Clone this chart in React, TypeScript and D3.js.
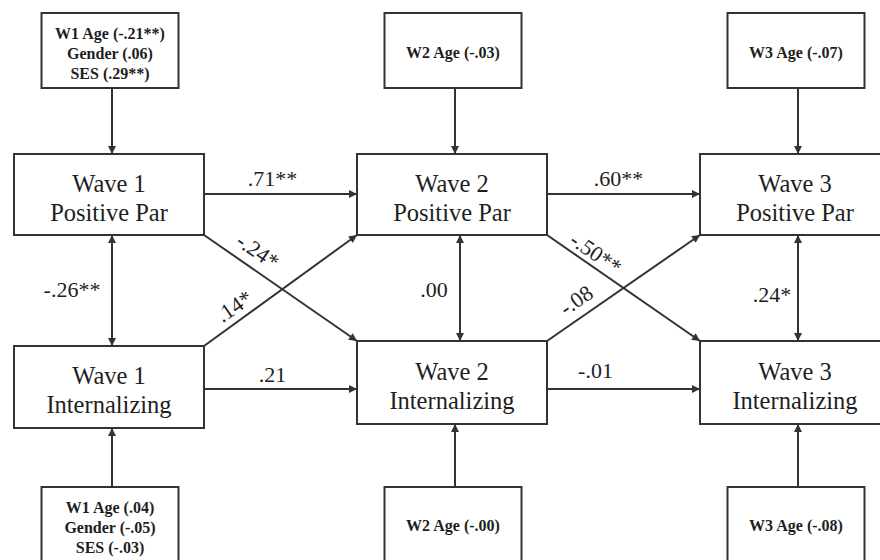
import React from "react";
import * as d3 from "d3";

// ---- data ----
const waves = ["Wave 1", "Wave 2", "Wave 3"];
const constructs = ["Positive Par", "Internalizing"];
const topCovariates = [
  ["W1 Age (-.21**)", "Gender (.06)", "SES (.29**)"],
  ["W2 Age (-.03)"],
  ["W3 Age (-.07)"],
];
const bottomCovariates = [
  ["W1 Age (.04)", "Gender (-.05)", "SES (-.03)"],
  ["W2 Age (-.00)"],
  ["W3 Age (-.08)"],
];
const stabilityPar = [".71**", ".60**"];
const stabilityInt = [".21", "-.01"];
const crossParToInt = ["-.24*", "-.50**"];
const crossIntToPar = [".14*", "-.08"];
const covariances = ["-.26**", ".00", ".24*"];

// ---- layout ----
const W = 880;
const H = 560;
const BOX_W = 190;
const COV_W = 137;
const STROKE = "#333";
const TEXT = "#1e1e1e";
const FONT = "Liberation Serif";

export default function App() {
  const colX = d3.scaleLinear().domain([0, 2]).range([14, 700]);
  const parTop = 154;
  const parBot = 235;
  const intTop = (i: number) => (i === 0 ? 346 : 341);
  const intBot = (i: number) => (i === 0 ? 428 : 424);
  const cx = (i: number) => colX(i) + BOX_W / 2;
  const covTop = 13;
  const covBot = 88;
  const bCovTop = 487;
  const parArrowY = 194;
  const intArrowY = 389;
  const dblX = (i: number) => cx(i) + (i === 1 ? 8 : 3);
  const covX = (i: number) => cx(i) + 3;
  const angle = (Math.atan2(intTop(1) - parBot, colX(1) - (colX(0) + BOX_W)) * 180) / Math.PI;

  const lines: { x1: number; y1: number; x2: number; y2: number; start?: boolean }[] = [];
  waves.forEach((_, i) => {
    lines.push({ x1: covX(i), y1: covBot, x2: covX(i), y2: parTop });
    lines.push({ x1: covX(i), y1: bCovTop, x2: covX(i), y2: intBot(i) });
    lines.push({ x1: dblX(i), y1: parBot, x2: dblX(i), y2: intTop(i), start: true });
  });
  stabilityPar.forEach((_, i) => {
    const r = colX(i) + BOX_W;
    const l = colX(i + 1);
    lines.push({ x1: r, y1: parArrowY, x2: l, y2: parArrowY });
    lines.push({ x1: r, y1: intArrowY, x2: l, y2: intArrowY });
    lines.push({ x1: r, y1: parBot, x2: l, y2: intTop(i + 1) });
    lines.push({ x1: r, y1: intTop(i), x2: l, y2: parBot });
  });

  return (
    <svg
      width={W}
      height={H}
      fontFamily={FONT}
      style={{ position: "absolute", left: 0, top: 0, fontFamily: FONT }}
    >
      <defs>
        <marker id="arr" viewBox="0 0 10 10" refX="10" refY="5" markerWidth="9" markerHeight="8"
          markerUnits="userSpaceOnUse" orient="auto-start-reverse">
          <path d="M0,0 L10,5 L0,10 z" fill={STROKE} />
        </marker>
      </defs>
      <rect x={0} y={0} width={W} height={H} fill="#fff" />

      {waves.map((_, i) => {
        const x = cx(i) - COV_W / 2 + 1;
        const topLines = topCovariates[i];
        const botLines = bottomCovariates[i];
        const topMid = (covTop + covBot) / 2;
        return (
          <g key={"cov" + i}>
            <rect x={x} y={covTop} width={COV_W} height={covBot - covTop} fill="#fff" stroke={STROKE} strokeWidth={2} />
            {topLines.map((t, k) => (
              <text key={k} x={x + COV_W / 2} y={topMid + (k - (topLines.length - 1) / 2) * 20 + (topLines.length > 1 ? 8.5 : 7.5)}
                textAnchor="middle" fontFamily={FONT} fontSize={16} fontWeight={700} fill={TEXT}>{t}</text>
            ))}
            <rect x={x} y={bCovTop} width={COV_W} height={90} fill="#fff" stroke={STROKE} strokeWidth={2} />
            {botLines.map((t, k) => (
              <text key={k} x={x + COV_W / 2} y={(botLines.length > 1 ? 527 : 525) + (k - (botLines.length - 1) / 2) * 20 + 5.5}
                textAnchor="middle" fontFamily={FONT} fontSize={16} fontWeight={700} fill={TEXT}>{t}</text>
            ))}
          </g>
        );
      })}

      {waves.map((w, i) => (
        <g key={"box" + i}>
          <rect x={colX(i)} y={parTop} width={BOX_W} height={parBot - parTop} fill="#fff" stroke={STROKE} strokeWidth={2} />
          <text x={cx(i)} y={(parTop + parBot) / 2 - 3} textAnchor="middle" fontFamily={FONT} fontSize={24.5} fill={TEXT}>{w}</text>
          <text x={cx(i)} y={(parTop + parBot) / 2 + 26} textAnchor="middle" fontFamily={FONT} fontSize={24.5} fill={TEXT}>{constructs[0]}</text>
          <rect x={colX(i)} y={intTop(i)} width={BOX_W} height={intBot(i) - intTop(i)} fill="#fff" stroke={STROKE} strokeWidth={2} />
          <text x={cx(i)} y={(intTop(i) + intBot(i)) / 2 - 3} textAnchor="middle" fontFamily={FONT} fontSize={24.5} fill={TEXT}>{w}</text>
          <text x={cx(i)} y={(intTop(i) + intBot(i)) / 2 + 26} textAnchor="middle" fontFamily={FONT} fontSize={24.5} fill={TEXT}>{constructs[1]}</text>
        </g>
      ))}

      {lines.map((l, k) => (
        <line key={"l" + k} x1={l.x1} y1={l.y1} x2={l.x2} y2={l.y2} stroke={STROKE} strokeWidth={2}
          markerEnd="url(#arr)" markerStart={l.start ? "url(#arr)" : undefined} />
      ))}

      {stabilityPar.map((t, i) => (
        <text key={"sp" + i} x={(colX(i) + BOX_W + colX(i + 1)) / 2 - 8 + i * 3} y={parArrowY - 8} textAnchor="middle" fontFamily={FONT} fontSize={22} fill={TEXT}>{t}</text>
      ))}
      {stabilityInt.map((t, i) => (
        <text key={"si" + i} x={(colX(i) + BOX_W + colX(i + 1)) / 2 - 8 - i * 20} y={intArrowY - 7 - i * 4} textAnchor="middle" fontFamily={FONT} fontSize={22} fill={TEXT}>{t}</text>
      ))}
      {covariances.map((t, i) => (
        <text key={"cv" + i} x={dblX(i) - (i === 0 ? 40 : 26)} y={297 + (i === 2 ? 5 : 0)} textAnchor="middle" fontFamily={FONT} fontSize={22} fill={TEXT}>{t}</text>
      ))}
      {crossParToInt.map((t, i) => {
        const mx = colX(i) + BOX_W + (i === 0 ? 54 : 49);
        const my = parBot + (i === 0 ? 16 : 18);
        return (
          <text key={"cp" + i} transform={`translate(${mx},${my}) rotate(${angle})`} textAnchor="middle" dy="0.35em" fontFamily={FONT} fontSize={22} fill={TEXT}>{t}</text>
        );
      })}
      {crossIntToPar.map((t, i) => {
        const mx = colX(i) + BOX_W + (i === 0 ? 30 : 29);
        const my = intTop(i) - (i === 0 ? 40 : 41);
        return (
          <text key={"ci" + i} transform={`translate(${mx},${my}) rotate(${-angle})`} textAnchor="middle" dy="0.35em" fontFamily={FONT} fontSize={22} fill={TEXT}>{t}</text>
        );
      })}
    </svg>
  );
}
